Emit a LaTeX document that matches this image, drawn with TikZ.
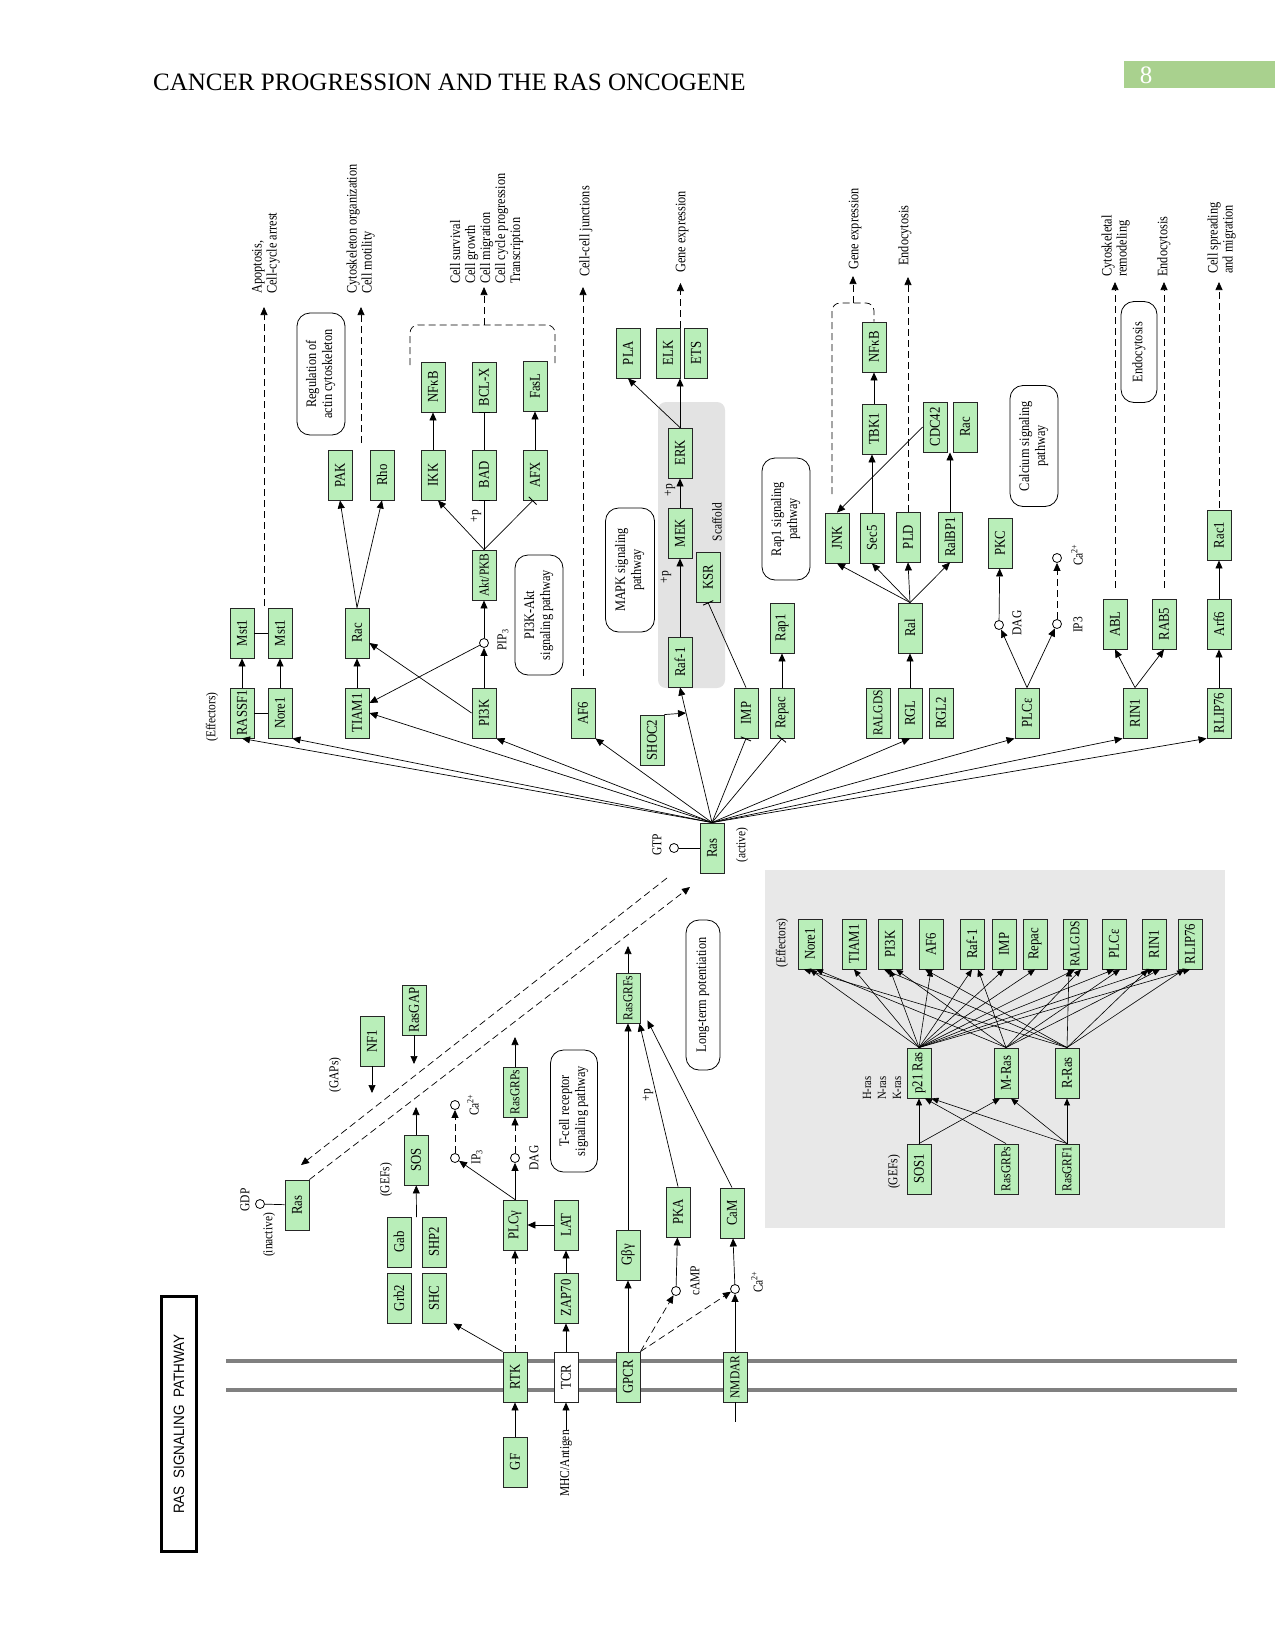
\documentclass[tikz,border=0pt]{standalone}
\usepackage{fontspec}
\setmainfont{Liberation Serif}
\newfontfamily\kegg[FakeStretch=0.85]{Liberation Serif}
\newfontfamily\ksans[FakeStretch=0.9]{Liberation Sans}
\usepackage{graphicx}
\usetikzlibrary{arrows.meta}
\definecolor{kgreen}{RGB}{185,238,185}
\definecolor{pgreen}{RGB}{169,209,142}
\definecolor{memb}{RGB}{128,128,128}
\newcommand\rtxt[1]{\rotatebox{90}{#1}}
\newcommand\rtab[2]{\rotatebox{90}{\begin{tabular}{@{}#1@{}}#2\end{tabular}}}
\begin{document}
\begin{tikzpicture}[x=1pt,y=-1pt,
  gene/.style={draw=black!85, fill=kgreen, line width=0.9pt, minimum width=24pt, minimum height=50pt, inner sep=0pt, font=\kegg\fontsize{15}{15}\selectfont},
  gsm/.style={font=\kegg\fontsize{13.5}{13.5}\selectfont},
  pw/.style={draw, line width=0.8pt, rounded corners=13pt, inner sep=0pt, font=\kegg\fontsize{14.5}{16}\selectfont},
  lbl/.style={inner sep=0pt, font=\kegg\fontsize{14.5}{15}\selectfont},
  slbl/.style={inner sep=0pt, font=\kegg\fontsize{13.5}{13.5}\selectfont},
  cpd/.style={circle, draw, fill=white, line width=0.8pt, minimum size=9pt, inner sep=0pt},
  act/.style={-{Triangle[length=8pt,width=7pt]}, line width=0.7pt},
  gact/.style={-{Triangle[length=7pt,width=6pt]}, line width=0.6pt},
  inh/.style={-{Bar[width=11pt,line width=0.9pt]}, line width=0.7pt},
  dsh/.style={dash pattern=on 7pt off 4pt},
  ln/.style={line width=0.7pt}]
\useasboundingbox (0,0) rectangle (1275,1651);

% ---------- header ----------
\fill[pgreen] (1124,61) rectangle (1275,88);
\node[anchor=base, inner sep=0pt, text=white, font=\fontsize{25}{30}\selectfont] (pnum) at (1146,84) {8};
\node[anchor=base west, inner sep=0pt, font=\fontsize{25}{30}\selectfont] (hdr) at (153,91) {CANCER PROGRESSION AND THE RAS ONCOGENE};

% ---------- backgrounds ----------
\fill[gray!22, rounded corners=8pt] (658,402) rectangle (725,688);
\fill[gray!18] (765,870) rectangle (1225,1228);
\draw[memb, line width=3.5pt] (226,1361) -- (1237,1361);
\draw[memb, line width=3.5pt] (226,1390) -- (1237,1390);

% ---------- title box ----------
\node[draw, line width=2.2pt, minimum width=35pt, minimum height=255pt, inner sep=0pt, font=\ksans\fontsize{15}{15}\selectfont] (title) at (179,1424) {\rtxt{RAS\ \ SIGNALING\ \ PATHWAY}};

% ---------- upper effectors ----------
\node[slbl] (effl) at (212,717) {\rtxt{(Effectors)}};
\node[gene] (rassf1) at (242,713) {\rtxt{RASSF1}};
\node[gene] (nore1) at (280,713) {\rtxt{Nore1}};
\node[gene] (mst1a) at (242,633) {\rtxt{Mst1}};
\node[gene] (mst1b) at (280,633) {\rtxt{Mst1}};
\node[gene] (tiam1) at (357,713) {\rtxt{TIAM1}};
\node[gene] (racl) at (357,633) {\rtxt{Rac}};
\node[gene] (pak) at (340,475) {\rtxt{PAK}};
\node[gene] (rho) at (382,475) {\rtxt{Rho}};
\node[gene] (ikk) at (433,475) {\rtxt{IKK}};
\node[gene] (bad) at (484,475) {\rtxt{BAD}};
\node[gene] (afx) at (535,475) {\rtxt{AFX}};
\node[gene] (nfkb) at (433,387) {\rtxt{NFκB}};
\node[gene] (bclx) at (484,387) {\rtxt{BCL-X}};
\node[gene] (fasl) at (535,386) {\rtxt{FasL}};
\node[gene] (pi3k) at (484,713) {\rtxt{PI3K}};
\node[gene, gsm] (akt) at (484,575) {\rtxt{Akt/PKB}};
\node[cpd] (pip3) at (484,643) {};
\node[slbl] (pip3l) at (503,640) {\rtxt{PIP\textsubscript{3}}};
\node[slbl] (pp1) at (476,516) {\rtxt{+p}};
\node[gene] (af6) at (583,713) {\rtxt{AF6}};

\node[pw, minimum width=48pt, minimum height=122pt] (regact) at (321,374) {\rtab{c}{Regulation of\\actin cytoskeleton}};
\node[pw, minimum width=48pt, minimum height=120pt] (pi3kakt) at (539,615) {\rtab{c}{PI3K-Akt\\signaling pathway}};

% MAPK
\node[pw, minimum width=49pt, minimum height=124pt] (mapk) at (630,570) {\rtab{c}{MAPK signaling\\pathway}};
\node[gene] (shoc2) at (652,740) {\rtxt{SHOC2}};
\node[gene] (raf1) at (680,662) {\rtxt{Raf-1}};
\node[gene] (mek) at (680,533) {\rtxt{MEK}};
\node[gene] (ksr) at (708,577) {\rtxt{KSR}};
\node[gene] (erk) at (680,453) {\rtxt{ERK}};
\node[gene] (pla) at (628,353) {\rtxt{PLA}};
\node[gene] (elk) at (668,353) {\rtxt{ELK}};
\node[gene, minimum width=23pt] (ets) at (696,353) {\rtxt{ETS}};
\node[slbl] (pp2) at (666,577) {\rtxt{+p}};
\node[slbl] (pp3) at (670,490) {\rtxt{+p}};
\node[slbl] (scaf) at (717,522) {\rtxt{Scaffold}};
\node[gene] (imp) at (746,713) {\rtxt{IMP}};
\node[gene] (repac) at (782,713) {\rtxt{Repac}};
\node[gene] (rap1) at (782,628) {\rtxt{Rap1}};
\node[pw, minimum width=48pt, minimum height=122pt] (rap1p) at (786,519) {\rtab{c}{Rap1 signaling\\pathway}};

% Ral
\node[gene, gsm] (ralgds) at (878,713) {\rtxt{RALGDS}};
\node[gene] (rgl) at (910,713) {\rtxt{RGL}};
\node[gene] (rgl2) at (941,713) {\rtxt{RGL2}};
\node[gene] (ral) at (910,628) {\rtxt{Ral}};
\node[gene] (jnk) at (837,538) {\rtxt{JNK}};
\node[gene] (sec5) at (872,538) {\rtxt{Sec5}};
\node[gene] (pld) at (908,537) {\rtxt{PLD}};
\node[gene] (ralbp1) at (950,537) {\rtxt{RalBP1}};
\node[gene] (tbk1) at (874,429) {\rtxt{TBK1}};
\node[gene] (nfkb2) at (874,347) {\rtxt{NFκB}};
\node[gene] (cdc42) at (935,427) {\rtxt{CDC42}};
\node[gene] (racr) at (965,427) {\rtxt{Rac}};
\node[pw, minimum width=48pt, minimum height=121pt] (calc) at (1034,446) {\rtab{c}{Calcium signaling\\pathway}};

% PLCe, RIN1, RLIP76
\node[gene] (plce) at (1027,713) {\rtxt{PLCε}};
\node[gene] (pkc) at (1000,543) {\rtxt{PKC}};
\node[cpd] (dag) at (999,625) {};
\node[cpd] (ip3) at (1057,624) {};
\node[cpd] (ca) at (1057,558) {};
\node[slbl] (dagl) at (1017,623) {\rtxt{DAG}};
\node[slbl] (ip3l) at (1078,625) {\rtxt{IP3}};
\node[slbl] (cal) at (1077,555) {\rtxt{Ca\textsuperscript{2+}}};
\node[gene] (rin1) at (1135,713) {\rtxt{RIN1}};
\node[gene] (abl) at (1115,624) {\rtxt{ABL}};
\node[gene] (rab5) at (1164,624) {\rtxt{RAB5}};
\node[gene] (rlip76) at (1219,713) {\rtxt{RLIP76}};
\node[gene] (arf6) at (1219,624) {\rtxt{Arf6}};
\node[gene] (rac1) at (1219,535) {\rtxt{Rac1}};
\node[pw, minimum width=36pt, minimum height=101pt] (endop) at (1139,352) {\rtxt{Endocytosis}};

% outputs
\node[lbl, anchor=south] (apop) at (266,294) {\rtab{l}{Apoptosis,\\Cell-cycle arrest}};
\node[lbl, anchor=south] (cyto) at (361,294) {\rtab{l}{Cytoskeleton organization\\Cell motility}};
\node[lbl, anchor=south] (csurv) at (487,284) {\rtab{l}{Cell survival\\Cell growth\\Cell migration\\Cell cycle progression\\Transcription}};
\node[lbl, anchor=south] (ccj) at (586,277) {\rtxt{Cell-cell junctions}};
\node[lbl, anchor=south] (gexp1) at (682,273) {\rtxt{Gene expression}};
\node[lbl, anchor=south] (gexp2) at (855,270) {\rtxt{Gene expression}};
\node[lbl, anchor=south] (endo1) at (905,266) {\rtxt{Endocytosis}};
\node[lbl, anchor=south] (cytrem) at (1116,277) {\rtab{l}{Cytoskeletal\\remodeling}};
\node[lbl, anchor=south] (endo2) at (1164,277) {\rtxt{Endocytosis}};
\node[lbl, anchor=south] (cspr) at (1222,274) {\rtab{l}{Cell spreading\\and migration}};

% Ras active
\node[gene] (ras) at (712,848) {\rtxt{Ras}};
\node[cpd] (gtp) at (674,848) {};
\node[slbl] (gtpl) at (657,845) {\rtxt{GTP}};
\node[slbl] (actl) at (742,845) {\rtxt{(active)}};

% ---------- lower part ----------
\node[gene] (rasi) at (297,1205) {\rtxt{Ras}};
\node[cpd] (gdp) at (260,1204) {};
\node[slbl] (gdpl) at (245,1200) {\rtxt{GDP}};
\node[slbl] (inactl) at (269,1235) {\rtxt{(inactive)}};
\node[slbl] (gapl) at (335,1075) {\rtxt{(GAPs)}};
\node[gene] (nf1) at (372,1041) {\rtxt{NF1}};
\node[gene] (rasgap) at (414,1010) {\rtxt{RasGAP}};
\node[slbl] (gefl) at (386,1180) {\rtxt{(GEFs)}};
\node[gene] (sos) at (416,1160) {\rtxt{SOS}};
\node[gene] (gab) at (399,1242) {\rtxt{Gab}};
\node[gene] (shp2) at (434,1242) {\rtxt{SHP2}};
\node[gene] (grb2) at (399,1298) {\rtxt{Grb2}};
\node[gene] (shc) at (434,1298) {\rtxt{SHC}};
\node[gene] (plcg) at (515,1225) {\rtxt{PLCγ}};
\node[gene] (lat) at (566,1225) {\rtxt{LAT}};
\node[gene] (zap70) at (566,1298) {\rtxt{ZAP70}};
\node[gene, gsm] (rasgrps) at (515,1092) {\rtxt{RasGRPs}};
\node[cpd] (ip3b) at (455,1158) {};
\node[cpd] (cab) at (455,1105) {};
\node[cpd] (dagb) at (515,1158) {};
\node[slbl] (ip3bl) at (477,1157) {\rtxt{IP\textsubscript{3}}};
\node[slbl] (cabl) at (473,1105) {\rtxt{Ca\textsuperscript{2+}}};
\node[slbl] (dagbl) at (534,1158) {\rtxt{DAG}};
\node[pw, minimum width=47pt, minimum height=122pt] (tcrp) at (574,1111) {\rtab{c}{T-cell receptor\\signaling pathway}};
\node[gene, gsm] (rasgrfs) at (628,998) {\rtxt{RasGRFs}};
\node[pw, minimum width=34pt, minimum height=150pt] (ltp) at (703,995) {\rtxt{Long-term potentiation}};
\node[gene] (gbg) at (628,1255) {\rtxt{Gβγ}};
\node[gene] (pka) at (678,1212) {\rtxt{PKA}};
\node[gene] (cam) at (732,1213) {\rtxt{CaM}};
\node[slbl] (pp4) at (648,1095) {\rtxt{+p}};
\node[cpd] (camp) at (676,1291) {};
\node[cpd] (cac) at (735,1289) {};
\node[slbl] (campl) at (695,1281) {\rtxt{cAMP}};
\node[slbl] (cacl) at (757,1282) {\rtxt{Ca\textsuperscript{2+}}};
\node[gene] (rtk) at (515,1377) {\rtxt{RTK}};
\node[gene, fill=white] (tcr) at (566,1377) {\rtxt{TCR}};
\node[gene] (gpcr) at (628,1377) {\rtxt{GPCR}};
\node[gene, gsm] (nmdar) at (735,1377) {\rtxt{NMDAR}};
\node[gene] (gf) at (515,1462) {\rtxt{GF}};
\node[slbl, anchor=north] (mhc) at (566,1430) {\rtxt{MHC/Antigen}};

% ---------- gray box ----------
\node[slbl] (effl2) at (782,943) {\rtxt{(Effectors)}};
\node[gene] (enore) at (810,944) {\rtxt{Nore1}};
\node[gene] (etiam) at (854,944) {\rtxt{TIAM1}};
\node[gene] (epi3k) at (890,944) {\rtxt{PI3K}};
\node[gene] (eaf6) at (931,944) {\rtxt{AF6}};
\node[gene] (eraf) at (972,944) {\rtxt{Raf-1}};
\node[gene] (eimp) at (1004,944) {\rtxt{IMP}};
\node[gene] (erepac) at (1035,944) {\rtxt{Repac}};
\node[gene, gsm] (eralgds) at (1075,944) {\rtxt{RALGDS}};
\node[gene] (eplce) at (1114,944) {\rtxt{PLCε}};
\node[gene] (erin) at (1154,944) {\rtxt{RIN1}};
\node[gene] (erlip) at (1190,944) {\rtxt{RLIP76}};
\node[gene] (p21) at (919,1073) {\rtxt{p21 Ras}};
\node[gene] (mras) at (1006,1073) {\rtxt{M-Ras}};
\node[gene] (rras) at (1067,1073) {\rtxt{R-Ras}};
\node[inner sep=0pt, font=\kegg\fontsize{12.5}{15}\selectfont, anchor=south] (hnk) at (883,1100) {\rtab{l}{H-ras\\N-ras\\K-ras}};
\node[slbl] (gefl2) at (894,1172) {\rtxt{(GEFs)}};
\node[gene] (sos1) at (919,1169) {\rtxt{SOS1}};
\node[gene, gsm] (grps2) at (1006,1169) {\rtxt{RasGRPs}};
\node[gene, gsm] (grf1) at (1067,1169) {\rtxt{RasGRF1}};

% ---------- edges: upper left ----------
\draw[ln] (rassf1) -- (nore1);
\draw[ln] (mst1a) -- (mst1b);
\draw[act] (rassf1) -- (mst1a);
\draw[act] (nore1) -- (mst1b);
\coordinate (mstdash) at (264,606);
\draw[dsh, act, shorten >=13pt] (mstdash) -- (mstdash |- apop.south);
\draw[act] (tiam1) -- (racl);
\draw[act] (racl.north) -- (pak.south);
\draw[act] (racl.north) -- (rho.south);
\coordinate (rhodash) at (361,443);
\draw[dsh, act, shorten >=13pt] (rhodash) -- (cyto.south);
\draw[act] (pi3k) -- (pip3);
\draw[act] (pip3) -- (akt);
\draw[act] (pi3k.west) -- ([yshift=-10pt]racl.east);
\draw[act] (pip3) -- ([yshift=10pt]tiam1.east);
\draw[act] (akt.north) -- ([xshift=5pt]ikk.south);
\draw[inh] (akt.north) -- (bad.south);
\draw[inh] (akt.north) -- ([xshift=-2pt]afx.south);
\draw[act] (ikk) -- (nfkb);
\draw[inh] (bad) -- (bclx);
\draw[act] (afx) -- (fasl);
\draw[dsh, ln, rounded corners=8pt] (410,365) -- (410,325) -- (555,325) -- (555,365);
\coordinate (br1) at (484,325);
\draw[dsh, act, shorten >=3pt] (br1) -- (br1 |- csurv.south);
\draw[dsh, act, shorten <=12pt, shorten >=10pt] (af6.north) -- (af6.north |- ccj.south);

% ---------- edges from Ras ----------
\draw[act] (ras.north) -- (rassf1.south);
\draw[act] (ras.north) -- (nore1.south east);
\draw[act] (ras.north) -- (tiam1.east);
\draw[act] (ras.north) -- (pi3k.south east);
\draw[act] (ras.north) -- (af6.south east);
\draw[act] (ras.north) -- (raf1.south);
\draw[inh] (ras.north) -- (imp.south);
\draw[inh] (ras.north) -- (repac.south);
\draw[act] (ras.north) -- (rgl.south);
\draw[act] (ras.north) -- (plce.south west);
\draw[act] (ras.north) -- (rin1.south west);
\draw[act] (ras.north) -- (rlip76.south west);
\draw[ln] (gtp) -- (ras);

% ---------- MAPK edges ----------
\coordinate (srf) at (686,713);
\draw[act] (shoc2.north east) -- (srf);
\draw[act] (raf1) -- (mek);
\draw[act] (mek) -- (erk);
\draw[inh] (imp.north) -- (ksr.south);
\draw[act] (repac) -- (rap1);
\draw[act] (erk.north) -- (erk.north |- elk.south);
\draw[act] (erk.north) -- (pla.south);
\draw[dsh, act, shorten >=10pt] (elk.north east) -- (elk.north east |- gexp1.south);

% ---------- Ral edges ----------
\draw[act] (rgl) -- (ral);
\draw[act] (ral.north) -- (jnk.south);
\draw[act] (ral.north) -- (sec5.south);
\draw[act] (ral.north) -- (pld.south);
\draw[act] (ral.north) -- (ralbp1.south);
\draw[act] (sec5.north) -- (sec5.north |- tbk1.south);
\draw[act] (tbk1) -- (nfkb2);
\draw[act] (cdc42.west) -- (jnk.north);
\draw[act] (ralbp1.north) -- (ralbp1.north |- cdc42.south);
\draw[dsh, ln, rounded corners=8pt] (832,494) -- (832,303) -- (874,303) -- (nfkb2.north);
\coordinate (br2) at (853,303);
\draw[dsh, act, shorten >=6pt] (br2) -- (br2 |- gexp2.south);
\draw[dsh, act, shorten >=11pt] (pld.north) -- (pld.north |- endo1.south);

% ---------- PLCe / RIN1 / RLIP76 edges ----------
\draw[act] (plce.north) -- (dag);
\draw[act] (plce.north) -- (ip3);
\draw[act] (dag) -- (pkc);
\draw[dsh, act] (ip3) -- (ca);
\draw[act] (rin1.north) -- (abl.south);
\draw[act] (rin1.north) -- (rab5.south);
\draw[dsh, act, shorten <=11pt, shorten >=5pt] (abl.north) -- (abl.north |- cytrem.south);
\draw[dsh, act, shorten <=11pt, shorten >=5pt] (rab5.north) -- (rab5.north |- endo2.south);
\draw[act] (rlip76) -- (arf6);
\draw[act] (arf6) -- (rac1);
\draw[dsh, act, shorten <=2pt, shorten >=8pt] (rac1.north) -- (rac1.north |- cspr.south);

% ---------- lower edges ----------
\coordinate (dA1) at (667,878);
\coordinate (dA2) at (301,1165);
\draw[dsh, act] (dA1) -- (dA2);
\coordinate (dB2) at (690,887);
\draw[dsh, act] (rasi.north east) -- (dB2);
\draw[ln] (gdp) -- (rasi);
\coordinate (nf1t) at (372,1093);
\coordinate (gapt) at (414,1064);
\draw[act] (nf1) -- (nf1t);
\draw[act] (rasgap) -- (gapt);
\coordinate (sost) at (416,1107);
\draw[act] (sos) -- (sost);
\coordinate (gabtop) at (416.5,1217);
\draw[act] (gabtop) -- (sos);
\draw[act] (gf) -- (rtk);
\draw[dsh, act] (rtk) -- (plcg);
\draw[act] (rtk.north west) -- ([xshift=7pt]shc.south east);
\draw[act] (lat) -- (plcg);
\draw[act] (zap70) -- (lat);
\draw[act] (tcr) -- (zap70);
\draw[act] (mhc) -- (tcr);
\draw[act] (plcg.north) -- (ip3b);
\draw[act] (plcg) -- (dagb);
\draw[dsh, act] (ip3b) -- (cab);
\draw[dsh, act] (dagb) -- (rasgrps);
\coordinate (grpst) at (515,1037);
\draw[act] (rasgrps) -- (grpst);
\draw[act] (gpcr) -- (gbg);
\draw[act] (gbg) -- (rasgrfs);
\draw[dsh, act] (gpcr.north east) -- (camp);
\draw[dsh, act] (gpcr.north east) -- (cac);
\draw[act] (camp) -- (pka);
\draw[act] (cac) -- (cam);
\draw[act] (nmdar) -- (cac);
\coordinate (nmb) at (735,1422);
\draw[ln] (nmdar) -- (nmb);
\draw[act] (pka.north) -- ([xshift=-1pt]rasgrfs.south east);
\draw[act] (cam.north) -- ([xshift=7pt,yshift=3pt]rasgrfs.south east);
\coordinate (grfst) at (628,946);
\draw[act] (rasgrfs) -- (grfst);

% ---------- gray box edges ----------
\foreach \e in {enore,etiam,epi3k,eaf6,eraf,eimp,erepac,eralgds,eplce,erin,erlip}
  \draw[gact] (p21.north) -- (\e.south);
\foreach \e in {enore,epi3k,eraf,eralgds,eplce,erin}
  \draw[gact] (mras.north) -- ([xshift=6pt]\e.south);
\foreach \e in {enore,epi3k,eaf6,eralgds,erin,erlip}
  \draw[gact] (rras.north) -- ([xshift=-6pt]\e.south);
\draw[gact] (sos1) -- (p21);
\draw[gact] (sos1.north) -- ([xshift=-6pt]mras.south);
\draw[gact] (grps2.north) -- ([xshift=6pt]p21.south);
\draw[gact] (grf1.north) -- (p21.south east);
\draw[gact] (grf1.north) -- ([xshift=5pt]mras.south);
\draw[gact] (grf1) -- (rras);
\end{tikzpicture}
\end{document}
